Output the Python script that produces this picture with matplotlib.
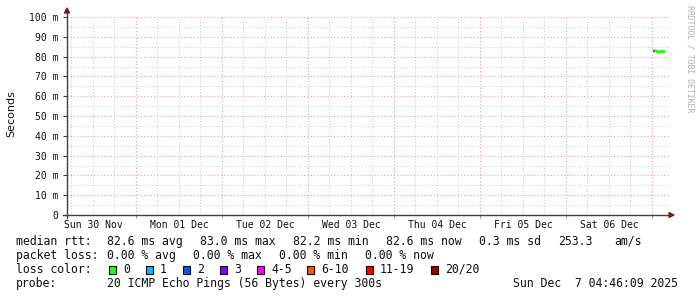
import numpy as np
import matplotlib
matplotlib.use('Agg')
import matplotlib.pyplot as plt
import matplotlib.dates as mdates
from matplotlib.patches import Polygon, Rectangle
from matplotlib.lines import Line2D
from matplotlib.ticker import MultipleLocator, FuncFormatter

# time window (one week, ends at graph creation time)
t_start = np.datetime64('2025-11-30T04:46')
t_end = np.datetime64('2025-12-07T04:46')

# median rtt samples (ms) at the very end of the window
rtt_times = np.array(['2025-12-07T00:25', '2025-12-07T00:45', '2025-12-07T01:05',
                      '2025-12-07T01:25', '2025-12-07T01:45', '2025-12-07T02:05',
                      '2025-12-07T02:25', '2025-12-07T02:45', '2025-12-07T03:05',
                      '2025-12-07T03:25', '2025-12-07T03:45'], dtype='datetime64[m]')
rtt_median = [82.8, 82.9, 82.8, 82.7, 82.3, 82.2, 82.5, 82.6, 82.6, 82.5, 82.6]

loss_labels = ['0', '1', '2', '3', '4-5', '6-10', '11-19', '20/20']
loss_colors = ['#26ff00', '#00b8ff', '#0059ff', '#7e00ff', '#ff00ff', '#ff5500', '#ff0000', '#a10000']

W, H = 697, 297
def fx(x):
    return x / W
def fy(y):
    return 1 - y / H

mono = 'DejaVu Sans Mono'
fig = plt.figure(figsize=(W / 100, H / 100), dpi=100)
fig.patch.set_facecolor('white')
ax = fig.add_axes([fx(67), fy(215), 602 / W, 198 / H])

x = mdates.date2num(rtt_times.astype('datetime64[s]').astype(object))
ax.plot(x[1:], rtt_median[1:], color=loss_colors[0], lw=2.2, solid_capstyle='butt', zorder=3)
ax.plot(x[:2], rtt_median[:2], color='black', lw=2.0, solid_capstyle='butt', zorder=2)

ax.set_xlim(mdates.date2num(t_start.astype('datetime64[s]').astype(object)),
            mdates.date2num(t_end.astype('datetime64[s]').astype(object)))
ax.set_ylim(0, 100)

for s in ax.spines.values():
    s.set_visible(False)

# y grid
ax.yaxis.set_major_locator(MultipleLocator(10))
ax.yaxis.set_minor_locator(MultipleLocator(5))
ax.yaxis.set_major_formatter(FuncFormatter(lambda v, p: '0' if v == 0 else '%d m' % v))
# x grid: midnight major, 6h minor, labels at noon
ax.xaxis.set_major_locator(mdates.DayLocator())
ax.xaxis.set_minor_locator(mdates.HourLocator(byhour=[0, 6, 12, 18]))
ax.xaxis.set_major_formatter(FuncFormatter(lambda v, p: ''))
def noon_label(v, p):
    d = mdates.num2date(v)
    return d.strftime('%a %d %b') if d.hour == 12 else ''
ax.xaxis.set_minor_formatter(FuncFormatter(noon_label))

ax.grid(which='minor', color='#c8c8c8', linestyle=(0, (1, 2)), lw=0.7)
ax.grid(which='major', color='#f09a9a', linestyle=(0, (1, 2)), lw=0.8)
ax.set_axisbelow(True)

ax.tick_params(axis='y', which='major', length=3, width=0.8, color='#404040',
               pad=3, labelsize=7, labelcolor='#101010')
ax.tick_params(axis='y', which='minor', length=0)
ax.tick_params(axis='x', which='major', length=2.5, width=0.8, color='#e08080')
ax.tick_params(axis='x', which='minor', length=0, pad=3.5, labelsize=7, labelcolor='#101010')
for lab in ax.get_yticklabels() + ax.get_xticklabels(minor=True):
    lab.set_family(mono)

# axes with arrows
axis_c = '#404040'
arrow_c = '#801818'
fig.add_artist(Line2D([fx(63), fx(670)], [fy(215), fy(215)], color=axis_c, lw=1.0))
fig.add_artist(Line2D([fx(67), fx(67)], [fy(218), fy(12)], color=axis_c, lw=1.0))
fig.add_artist(Polygon([[fx(669), fy(212.5)], [fx(674), fy(215)], [fx(669), fy(217.5)]],
                       closed=True, color=arrow_c, transform=fig.transFigure))
fig.add_artist(Polygon([[fx(64.5), fy(13)], [fx(67), fy(8)], [fx(69.5), fy(13)]],
                       closed=True, color=arrow_c, transform=fig.transFigure))

fig.text(fx(11), fy(113.5), 'Seconds', rotation=90, ha='center', va='center',
         fontsize=8, family='DejaVu Sans', color='#101010')
fig.text(fx(690), fy(59), 'RRDTOOL / TOBI OETIKER', rotation=-90, ha='center', va='center',
         fontsize=5.9, family=mono, color='#b0b0b0')

# legend lines
fs = 8.3
def txt(x, y, s, **kw):
    fig.text(fx(x), fy(y), s, ha='left', va='center', fontsize=fs, family=mono,
             color='#101010', **kw)

y1, y2, y3, y4 = 241.5, 255.5, 269.5, 283.5
txt(16, y1, 'median rtt:')
for xx, s in zip([107, 200.5, 293, 386, 479, 558, 614],
                 ['82.6 ms avg', '83.0 ms max', '82.2 ms min', '82.6 ms now',
                  '0.3 ms sd', '253.3', 'am/s']):
    txt(xx, y1, s)
txt(16, y2, 'packet loss:')
for xx, s in zip([107, 193, 279, 365], ['0.00 % avg', '0.00 % max', '0.00 % min', '0.00 % now']):
    txt(xx, y2, s)
txt(16, y3, 'loss color:')
box_x = [108.5, 145.5, 182.5, 219.5, 256.5, 306.5, 365.5, 430.5]
for bx, lab, col in zip(box_x, loss_labels, loss_colors):
    fig.add_artist(Rectangle((fx(bx), fy(273.5)), 7.5 / W, 7.5 / H, facecolor=col,
                             edgecolor='black', lw=0.8, transform=fig.transFigure))
    txt(bx + 14.5, y3, lab)
txt(16, y4, 'probe:')
txt(107, y4, '20 ICMP Echo Pings (56 Bytes) every 300s')
txt(513, y4, 'Sun Dec  7 04:46:09 2025')

fig.savefig('out.png', dpi=100, facecolor='white')
